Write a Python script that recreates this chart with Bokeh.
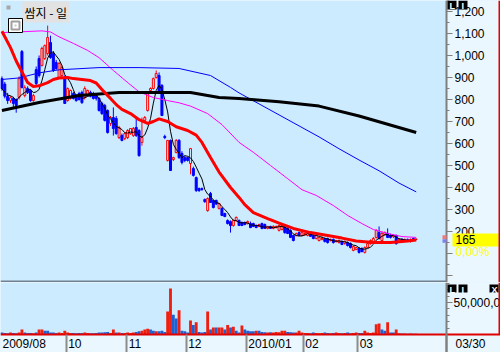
import numpy as np
import pandas as pd
from bokeh.plotting import figure
from bokeh.models import (ColumnDataSource, Range1d, FixedTicker, NumeralTickFormatter,
                          LinearAxis, Label, BoxAnnotation)
from bokeh.layouts import column
from bokeh.embed import file_html
from bokeh.resources import INLINE

# ---------------- data ----------------
title_text = "쌈지 - 일"

opens = [895, 870, 815, 795, 805, 800, 810, 1018, 818, 850,
         841, 795, 936, 986, 955, 986, 1009, 1059, 1009, 968,
         900, 909, 900, 795, 805, 827, 818, 827, 832, 809,
         818, 832, 827, 818, 805, 782, 773, 750, 691, 718,
         714, 627, 636, 623, 627, 645, 636, 673, 659, 605,
         705, 750, 841, 850, 900, 909, 864, 632, 523, 614,
         527, 559, 614, 555, 536, 536, 509, 486, 445, 395,
         395, 345, 295, 373, 341, 341, 305, 305, 282, 250,
         245, 227, 250, 250, 241, 241, 236, 236, 236, 227,
         223, 236, 232, 214, 223, 214, 218, 205, 209, 223,
         214, 205, 182, 182, 195, 182, 186, 182, 186, 182,
         168, 159, 164, 168, 168, 159, 164, 155, 150, 155,
         145, 150, 145, 114, 118, 123, 123, 105, 127, 145,
         155, 173, 195, 159, 186, 191, 182, 177, 182, 155,
         164, 159, 164, 155, 168, 164]
highs = [905, 880, 830, 815, 812, 805, 905, 1025, 865, 860,
         845, 825, 950, 1000, 1040, 1050, 1136, 1090, 1020, 980,
         970, 955, 910, 855, 845, 835, 825, 835, 840, 860,
         845, 840, 835, 822, 810, 790, 780, 755, 725, 764,
         725, 680, 645, 650, 665, 670, 675, 714, 665, 718,
         725, 830, 855, 900, 932, 923, 870, 640, 614, 618,
         540, 620, 620, 565, 545, 540, 580, 495, 450, 400,
         400, 350, 355, 380, 345, 345, 330, 310, 285, 255,
         250, 255, 268, 255, 245, 245, 250, 245, 240, 232,
         235, 240, 236, 225, 226, 228, 227, 232, 232, 228,
         218, 210, 186, 195, 200, 200, 195, 195, 190, 186,
         186, 175, 178, 173, 172, 168, 168, 162, 164, 160,
         159, 155, 150, 136, 130, 130, 128, 132, 150, 164,
         175, 210, 223, 200, 200, 214, 190, 186, 186, 168,
         170, 168, 168, 168, 172, 168]
lows = [840, 805, 780, 785, 765, 740, 800, 850, 810, 825,
        790, 790, 865, 900, 950, 980, 1000, 985, 925, 935,
        895, 900, 780, 790, 800, 800, 790, 795, 780, 800,
        815, 810, 800, 795, 745, 730, 700, 645, 680, 636,
        640, 620, 610, 615, 620, 640, 630, 630, 540, 590,
        700, 745, 835, 845, 895, 830, 725, 620, 518, 475,
        520, 555, 530, 505, 515, 518, 460, 450, 380, 380,
        385, 330, 290, 330, 305, 320, 300, 270, 265, 232,
        195, 222, 245, 225, 225, 228, 232, 215, 220, 215,
        220, 210, 212, 210, 212, 210, 214, 200, 205, 190,
        188, 170, 155, 178, 180, 178, 182, 178, 175, 165,
        164, 155, 160, 150, 145, 155, 145, 150, 145, 138,
        140, 132, 123, 110, 115, 100, 105, 100, 125, 140,
        150, 168, 164, 155, 180, 170, 168, 170, 140, 150,
        155, 155, 152, 150, 160, 160]
closes = [850, 815, 795, 808, 782, 773, 895, 855, 855, 832,
          795, 818, 873, 909, 1032, 1045, 1082, 991, 932, 941,
          964, 945, 782, 850, 841, 805, 795, 800, 786, 850,
          841, 815, 805, 805, 750, 736, 705, 650, 718, 668,
          645, 673, 614, 645, 659, 668, 668, 636, 545, 627,
          718, 827, 850, 895, 918, 832, 727, 627, 614, 477,
          536, 614, 536, 514, 523, 523, 577, 455, 386, 386,
          391, 336, 350, 332, 309, 325, 327, 273, 268, 236,
          227, 250, 264, 227, 227, 232, 245, 218, 223, 218,
          232, 214, 214, 223, 214, 223, 223, 227, 227, 195,
          191, 173, 159, 191, 182, 195, 191, 191, 178, 168,
          182, 173, 168, 155, 150, 164, 150, 159, 159, 141,
          155, 136, 127, 132, 127, 105, 109, 127, 145, 159,
          168, 205, 168, 191, 195, 173, 173, 182, 145, 164,
          159, 164, 155, 164, 164, 165]

# volume in millions of shares
volumes_m = [3, 2.5, 2, 3, 2.5, 2, 3, 8, 3, 2.5,
             2.5, 2, 3, 8, 8, 6, 6, 3, 3, 2.5,
             3, 2.5, 6, 3, 2.5, 2.5, 2, 2.5, 2.5, 3,
             2.5, 2, 2, 2.5, 3, 3, 3.5, 4, 2.5, 8,
             3, 3, 2.5, 2.5, 3, 2.5, 3, 4, 5, 6,
             8, 9, 8, 6, 5, 5, 6, 4, 36, 72,
             31, 25, 38, 6, 5, 3, 22, 15, 19, 4,
             3, 4, 36, 8, 11, 11, 11, 11, 8, 15,
             11, 12, 6, 3, 14, 8, 6, 5, 5, 6,
             6, 4, 3.5, 3, 3.5, 3, 4, 3.5, 6, 6,
             4, 3.5, 3, 3, 6, 3, 2.5, 2.5, 2, 3,
             2.5, 2, 2.5, 3, 2.5, 2, 2.5, 3, 2.5, 2,
             2.5, 3, 2, 2.5, 3, 2.5, 2.5, 6, 3, 2.5,
             3, 16, 17, 8, 6, 19, 3, 3, 8, 2,
             1.5, 1.5, 1, 1.5, 1, 1]
volume_dir = ("bbbrbbrrbb" "brbrrbbbbb" "rrrrrbbbbr" "rbbbbbbbrr" "brbrrrrbbr"
              "rrbbrbbbrr" "bbrbbbrbrb" "bbrbrbrrbr" "brbbrbbbbr" "bbbrbrrrrr"
              "bbbrrrrrbb" "rrrbbrbrrb" "rbbrrbbrrr" "rrrbbrbbrr" "brbrbr")

# moving averages sampled at bar positions
ma20_idx = [0, 3, 5, 7, 9, 11, 13, 16, 18, 20, 23, 25, 28, 31, 33, 35, 38, 40, 42, 45,
            48, 51, 53, 55, 58, 61, 65, 68, 70, 73, 76, 80, 83, 85, 88, 93, 97, 102, 108, 114,
            119, 124, 130, 136, 142, 145]
ma20_val = [1110, 1036, 975, 925, 877, 859, 862, 877, 891, 898, 900, 895, 891, 886, 875, 845,
            805, 777, 755, 736, 708, 691, 700, 712, 700, 676, 659, 638, 605, 536, 470, 400,
            355, 322, 286, 259, 238, 214, 195, 182, 170, 157, 150, 150, 157, 161]
ma60_idx = [0, 14, 17, 20, 25, 30, 34, 39, 44, 48, 53, 58, 62, 66, 72, 77, 83, 88, 94, 100,
            105, 110, 116, 121, 126, 130, 135, 140, 145]
ma60_val = [1104, 1112, 1107, 1085, 1055, 1023, 990, 932, 877, 835, 809, 795, 785, 770, 736,
            686, 605, 560, 500, 440, 390, 364, 318, 273, 236, 209, 191, 177, 173]
ma120_idx = [0, 6, 13, 20, 34, 48, 62, 73, 80, 83, 90, 97, 104, 111, 118, 125, 132, 139, 145]
ma120_val = [891, 898, 921, 935, 945, 945, 941, 909, 855, 830, 780, 730, 680, 630, 576, 525,
             476, 420, 380]
ma240_idx = [0, 13, 27, 41, 55, 66, 76, 83, 97, 111, 125, 145]
ma240_val = [750, 786, 818, 832, 832, 832, 809, 805, 790, 770, 725, 650]

price_ticks = list(range(0, 1201, 100))
volume_tick = 50000000
month_labels = ["2009/08", "10", "11", "12", "2010/01", "02", "03"]
month_first_bar = [0, 23, 44, 65, 86, 106, 125]
last_date_label = "03/30"
change_label = "0,00%"

# ---------------- style / layout ----------------
BG = "#CCEBFF"
BG2 = "#EAF7FF"
AX = "#7F7F7F"
UP, DOWN = "#FF0000", "#0000FF"
VUP, VDOWN = "#F01E0F", "#1E5FD2"
EDGE = "#E00000"
FONT = "Liberation Sans"

W = 500
AXIS_PX = 446                     # x pixel of the right-hand value axes
X0 = -0.5
PXB = AXIS_PX / 156.1             # pixels per bar
X1 = X0 + W / PXB
X_AX = X0 + AXIS_PX / PXB
A_H = 282
PRICE_PX = 0.22
P_TOP = 1250.0
P_BOT = P_TOP - A_H / PRICE_PX
B_H = 70
B_VOL = 52                        # pixel height of the volume area
STRIP = B_H - B_VOL               # date strip height
VOL_PX = 32.0 / volume_tick       # pixels per share
VOL_MAX = B_VOL / VOL_PX
V_BOT = -STRIP / VOL_PX

N = len(closes)
x = np.arange(N)
o = np.array(opens, float); h = np.array(highs, float)
l = np.array(lows, float); c = np.array(closes, float)
up = c >= o
vol = np.array(volumes_m) * 1e6
ma5 = pd.Series(c).rolling(5, min_periods=1).mean().values

xr = Range1d(X0, X1)


def box(fig, level="annotation", fill=None, line=None, lw=1, units=None, **kw):
    u = units or {}
    fig.add_layout(BoxAnnotation(level=level, fill_color=fill or "white",
                                 fill_alpha=1 if fill else 0,
                                 line_color=line or "white", line_alpha=1 if line else 0,
                                 line_width=lw, **u, **kw))


SCR = dict(left_units="screen", right_units="screen", top_units="screen",
           bottom_units="screen")

# ---------------- price panel ----------------
p = figure(width=W, height=A_H, x_range=xr, y_range=Range1d(P_BOT, P_TOP),
           output_backend="svg", toolbar_location=None, x_axis_location=None,
           y_axis_location=None, min_border=0, background_fill_color=BG,
           border_fill_color=BG2, outline_line_color=None)
p.grid.visible = False

box(p, level="underlay", fill=BG2, left=X_AX)
box(p, level="underlay", fill="#708090", right=X_AX, top=P_BOT + 2 / PRICE_PX, bottom=P_BOT)

src = ColumnDataSource(dict(
    x=x, l=l, h=h, top=np.maximum(o, c), bot=np.minimum(o, c),
    col=[UP if u else DOWN for u in up], fill=[BG if u else DOWN for u in up]))
p.segment("x", "l", "x", "h", source=src, line_color="col", line_width=1)
p.vbar(x="x", width=0.7, top="top", bottom="bot", source=src,
       fill_color="fill", line_color="col", line_width=1)

p.line(x, ma5, line_color="black", line_width=1)
p.line(ma60_idx, ma60_val, line_color="#FF00FF", line_width=1)
p.line(ma120_idx, ma120_val, line_color="#0000FF", line_width=1)
p.line(ma240_idx, ma240_val, line_color="black", line_width=3)
p.line(ma20_idx, ma20_val, line_color="#FF0000", line_width=3)

ya = LinearAxis(fixed_location=X_AX)
ya.ticker = FixedTicker(ticks=price_ticks, minor_ticks=[t + 50 for t in price_ticks])
ya.formatter = NumeralTickFormatter(format="0,0")
ya.major_label_overrides = {0: "", 100: ""}
ya.axis_line_color = AX
ya.axis_line_width = 2
ya.major_tick_line_color = AX
ya.major_tick_in = 0
ya.major_tick_out = 6
ya.minor_tick_line_color = AX
ya.minor_tick_in = 0
ya.minor_tick_out = 3
ya.major_label_standoff = 2
ya.major_label_text_font = FONT
ya.major_label_text_font_size = "12px"
ya.major_label_text_color = "black"
p.add_layout(ya, "right")

# title + icons (screen units: y measured up from the frame bottom)
box(p, fill="#A8A8A8", units=SCR, left=6, right=10, top=A_H - 5, bottom=A_H - 9)
p.add_layout(Label(x=22, y=A_H - 1, x_units="screen", y_units="screen", text=title_text,
                   text_font="Noto Sans CJK KR", text_font_size="12px",
                   text_baseline="top", text_color="black",
                   background_fill_color="#E2E2E2", background_fill_alpha=1, padding=2))
box(p, fill="white", line="black", units=SCR, left=8, right=22, top=A_H - 18, bottom=A_H - 32)
box(p, line="#A0A0A0", lw=2, units=SCR, left=11, right=19, top=A_H - 21, bottom=A_H - 29)
box(p, fill="#C8C8C8", units=SCR, left=14, right=16, top=A_H - 24, bottom=A_H - 26)

# last price box
last = closes[-1]
box(p, fill="#FFFF00", units=dict(left_units="screen", right_units="screen"),
    left=452, right=498, top=last + 5.8 / PRICE_PX, bottom=last - 7.3 / PRICE_PX)
box(p, fill="#F07878", units=dict(left_units="screen", right_units="screen"),
    left=442, right=446, top=last + 4 / PRICE_PX, bottom=last)
box(p, fill="#8080E8", units=dict(left_units="screen", right_units="screen"),
    left=442, right=446, top=last, bottom=last - 3.5 / PRICE_PX)
p.add_layout(Label(x=455, y=last, x_units="screen", text=f"{last:,}",
                   text_font=FONT, text_font_size="12px", text_baseline="middle",
                   text_color="black"))
p.add_layout(Label(x=455, y=last - 12.5 / PRICE_PX, x_units="screen", text=change_label,
                   text_font=FONT, text_font_size="12px", text_baseline="middle",
                   text_color="#FFFF00"))
# LI icon
box(p, fill="black", units=SCR, left=447, right=456, top=A_H, bottom=A_H - 9)
box(p, fill="black", units=SCR, left=458, right=467, top=A_H, bottom=A_H - 9)
for xx, t in ((449, "L"), (461, "I")):
    p.add_layout(Label(x=xx, y=A_H - 0.5, x_units="screen", y_units="screen", text=t,
                       text_font=FONT, text_font_size="9px", text_font_style="bold",
                       text_baseline="top", text_color="white"))
box(p, fill=EDGE, units=SCR, left=W - 2, right=W, top=A_H, bottom=0)

# ---------------- volume panel ----------------
q = figure(width=W, height=B_H, x_range=xr, y_range=Range1d(V_BOT, VOL_MAX),
           output_backend="svg", toolbar_location=None, x_axis_location=None,
           y_axis_location=None, min_border=0, background_fill_color=BG,
           border_fill_color=BG2, outline_line_color=None)
q.grid.visible = False
box(q, level="underlay", fill=BG2, left=X_AX)
box(q, level="underlay", fill=BG2, top=0)

vsrc = ColumnDataSource(dict(x=x, v=vol,
                             col=[VUP if d == "r" else VDOWN for d in volume_dir]))
q.vbar(x="x", top="v", bottom=0, width=1.0, source=vsrc, fill_color="col", line_color=None)

va = LinearAxis(fixed_location=X_AX)
va.ticker = FixedTicker(ticks=[volume_tick],
                        minor_ticks=[m * 1e7 for m in (1, 2, 3, 4, 6, 7, 8)])
va.major_label_overrides = {volume_tick: "50,000,0"}
va.axis_line_color = AX
va.axis_line_width = 2
va.major_tick_line_color = AX
va.major_tick_in = 0
va.major_tick_out = 6
va.minor_tick_line_color = AX
va.minor_tick_in = 0
va.minor_tick_out = 3
va.major_label_standoff = 1
va.major_label_text_font = FONT
va.major_label_text_font_size = "12px"
va.major_label_text_color = "black"
q.add_layout(va, "right")


def text_w(s):
    return sum(6.67 if ch.isdigit() else 3.34 for ch in s)


centers, overrides = [], {}
for lab, fb in zip(month_labels, month_first_bar):
    start_px = fb * PXB + 2
    cx = round((start_px + text_w(lab) / 2) / PXB - 0.5, 2)
    centers.append(cx)
    overrides[cx] = lab
# the last date is written in the value-axis column, right of the axis line
cx = round((AXIS_PX + 9 + text_w(last_date_label) / 2) / PXB - 0.5, 2)
centers.append(cx)
overrides[cx] = last_date_label
bounds = [fb - 0.5 for fb in month_first_bar[1:]] + [X_AX]

xa = LinearAxis(fixed_location=0)
xa.ticker = FixedTicker(ticks=centers, minor_ticks=bounds)
xa.major_label_overrides = overrides
xa.axis_line_color = EDGE
xa.axis_line_width = 2
xa.major_tick_line_color = None
xa.major_tick_out = 0
xa.major_tick_in = 0
xa.minor_tick_line_color = "#8C8C8C"
xa.minor_tick_line_width = 2
xa.minor_tick_in = 0
xa.minor_tick_out = STRIP
# the strip lines are minor ticks; pull the labels back up into the strip
xa.major_label_standoff = 2 - STRIP
xa.major_label_text_font = FONT
xa.major_label_text_font_size = "12px"
xa.major_label_text_color = "black"
q.add_layout(xa, "below")

box(q, fill=EDGE, units=dict(left_units="screen", right_units="screen"),
    left=W - 2, right=W, bottom=0)
for lx in (447, 458, 489):
    box(q, fill="black", units=SCR, left=lx, right=lx + 9, top=B_H - 2, bottom=B_H - 10)
for xx, t in ((449, "L"), (461, "I"), (491, "X")):
    q.add_layout(Label(x=xx, y=B_H - 2.5, x_units="screen", y_units="screen", text=t,
                       text_font=FONT, text_font_size="9px", text_font_style="bold",
                       text_baseline="top", text_color="white"))

layout = column(p, q, spacing=0)
open("out.html", "w").write(file_html(layout, INLINE))
